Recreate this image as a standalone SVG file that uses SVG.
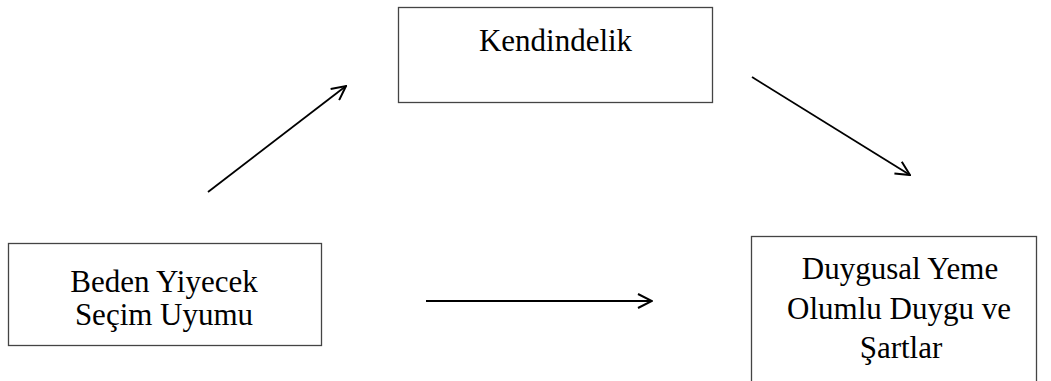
<svg xmlns="http://www.w3.org/2000/svg" width="1051" height="381" viewBox="0 0 1051 381">
  <style>
    .box { fill: #ffffff; stroke: #444444; stroke-width: 1.3; }
    .label { font-family: "Liberation Serif", "Times New Roman", serif; font-size: 31px; fill: #000000; text-anchor: middle; }
    .conn { stroke: #000000; stroke-width: 1.8; fill: none; marker-end: url(#chevron); }
  </style>
  <defs>
    <marker id="chevron" viewBox="0 0 16 16" refX="15" refY="8" markerWidth="16" markerHeight="16" markerUnits="userSpaceOnUse" orient="auto">
      <path d="M1,1 L15,8 L1,15" fill="none" stroke="#000000" stroke-width="2"/>
    </marker>
  </defs>
  <rect width="1051" height="381" fill="#ffffff"/>

  <g id="node-kendindelik">
    <rect class="box" x="398.5" y="7.5" width="314" height="95"/>
    <text class="label" x="555.5" y="51">Kendindelik</text>
  </g>

  <g id="node-beden">
    <rect class="box" x="8.5" y="243.5" width="313" height="102"/>
    <text class="label" x="164" y="292">Beden Yiyecek</text>
    <text class="label" x="164" y="325">Seçim Uyumu</text>
  </g>

  <g id="node-duygusal">
    <rect class="box" x="751.5" y="236.5" width="285" height="150"/>
    <text class="label" x="900" y="279">Duygusal Yeme</text>
    <text class="label" x="899" y="319">Olumlu Duygu ve</text>
    <text class="label" x="901" y="358">Şartlar</text>
  </g>

  <g id="connectors">
    <line class="conn" x1="208" y1="192" x2="346" y2="86"/>
    <line class="conn" x1="752" y1="77" x2="910" y2="175"/>
    <line class="conn" x1="426" y1="301" x2="652" y2="301"/>
  </g>
</svg>
